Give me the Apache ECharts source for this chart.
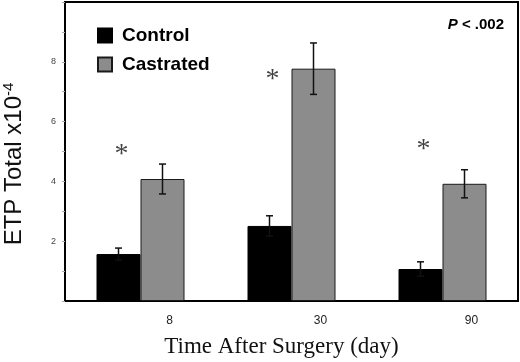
<!DOCTYPE html>
<html>
<head>
<meta charset="utf-8">
<script src="https://cdn.jsdelivr.net/npm/echarts@6/dist/echarts.min.js"></script>
<style>
  html, body { margin: 0; padding: 0; background: #fff; }
  #chart { width: 520px; height: 362px; }
</style>
</head>
<body>
<div id="chart"></div>
<script>
// data
var days = ['8', '30', '90']
var controlValues = [1.57, 2.51, 1.07]
var controlErr = [0.2, 0.34, 0.24]
var castratedValues = [4.08, 7.77, 3.92]
var castratedErr = [0.5, 0.86, 0.47]
var starLevels = [5.05, 7.56, 5.22] // where the * marks sit

var BAR_W = 44

function errData (vals, errs) {
  return vals.map(function (v, i) {
    return [i, v - errs[i], v + errs[i]]
  })
}

function errSeries (name, vals, errs, shift) {
  return {
    type: 'custom',
    name: name + ' err',
    z: 5,
    silent: true,
    data: errData(vals, errs),
    renderItem: function (params, api) {
      var lo = api.coord([api.value(0), api.value(1)])
      var hi = api.coord([api.value(0), api.value(2)])
      var x = lo[0] + shift
      var cap = 3.5
      var style = { stroke: '#111', lineWidth: 1.5 }
      return {
        type: 'group',
        children: [
          { type: 'line', shape: { x1: x, y1: lo[1], x2: x, y2: hi[1] }, style: style },
          { type: 'line', shape: { x1: x - cap, y1: hi[1], x2: x + cap, y2: hi[1] }, style: style },
          { type: 'line', shape: { x1: x - cap, y1: lo[1], x2: x + cap, y2: lo[1] }, style: style }
        ]
      }
    }
  }
}

var chart = echarts.init(document.getElementById('chart'))

var option = {
  animation: false,
  textStyle: { fontFamily: 'Liberation Sans, Arial, sans-serif' },
  title: {
    text: '{i|P} < .002',
    right: 16,
    top: 17,
    padding: 0,
    textStyle: {
      fontSize: 15,
      fontWeight: 'bold',
      color: '#000',
      rich: {
        i: { fontSize: 15, fontWeight: 'bold', fontStyle: 'italic', color: '#000' }
      }
    }
  },
  legend: {
    data: ['Control', 'Castrated'],
    orient: 'vertical',
    left: 97,
    top: 26,
    padding: 0,
    itemWidth: 14,
    itemHeight: 14,
    itemGap: 10,
    icon: 'rect',
    textStyle: { fontSize: 19, fontWeight: 'bold', color: '#000', padding: [0, 0, 0, 5] }
  },
  grid: {
    left: 65,
    right: 2,
    top: 2,
    bottom: 61,
    outerBoundsMode: 'none',
    show: true,
    borderColor: '#000',
    borderWidth: 2
  },
  xAxis: {
    type: 'category',
    data: days,
    axisTick: { show: false },
    axisLine: { lineStyle: { color: '#000', width: 2 } },
    axisLabel: {
      fontSize: 12,
      color: '#222',
      margin: 14,
      padding: [0, 0, 0, 58]
    },
    name: 'Time After Surgery (day)',
    nameLocation: 'middle',
    nameGap: 34,
    nameTextStyle: {
      fontFamily: 'Liberation Serif, Times New Roman, serif',
      fontSize: 23,
      color: '#111',
      padding: [0, 20, 0, 0]
    }
  },
  yAxis: {
    type: 'value',
    min: 0,
    max: 10,
    interval: 1,
    splitLine: { show: false },
    axisLine: { show: true, lineStyle: { color: '#000', width: 2 } },
    axisTick: { show: true, length: 3, lineStyle: { color: '#aaa', width: 1 } },
    axisLabel: {
      fontSize: 9,
      color: '#444',
      margin: 9,
      formatter: function (v) {
        return (v > 0 && v < 10 && v % 2 === 0) ? String(v) : ''
      }
    },
    name: '{m|ETP Total x10}{s|-4}',
    nameLocation: 'middle',
    nameRotate: 90,
    nameGap: 37,
    nameTextStyle: {
      padding: [0, 25, 0, 0],
      rich: {
        m: { fontSize: 24, color: '#111' },
        s: { fontSize: 15, color: '#111', padding: [0, 0, 12, 0] }
      }
    }
  },
  series: [
    {
      name: 'Control',
      type: 'bar',
      barWidth: BAR_W,
      barGap: '0%',
      data: controlValues,
      itemStyle: { color: '#000', borderColor: '#000', borderWidth: 1 }
    },
    {
      name: 'Castrated',
      type: 'bar',
      barWidth: BAR_W,
      barGap: '0%',
      data: castratedValues,
      itemStyle: { color: '#8c8c8c', borderColor: '#1a1a1a', borderWidth: 1 }
    },
    errSeries('Control', controlValues, controlErr, -BAR_W / 2),
    errSeries('Castrated', castratedValues, castratedErr, BAR_W / 2),
    {
      type: 'scatter',
      name: 'sig',
      symbolSize: 0,
      silent: true,
      data: starLevels,
      label: {
        show: true,
        position: 'inside',
        formatter: '*',
        offset: [-19, 5],
        fontFamily: 'Liberation Serif, Times New Roman, serif',
        fontSize: 28,
        color: '#111'
      }
    }
  ]
}

chart.setOption(option)
</script>
</body>
</html>
